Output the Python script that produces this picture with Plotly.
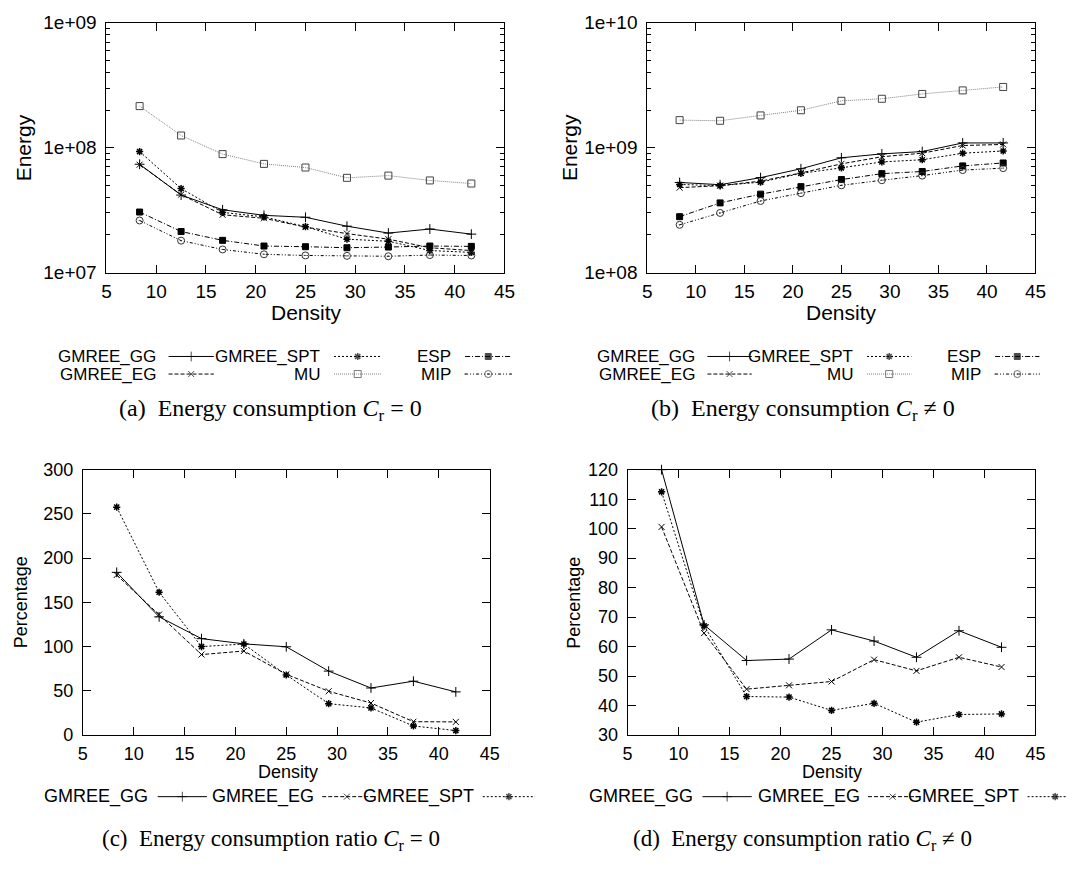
import plotly.graph_objects as go

W, H = 1078, 875

density = [8.33, 12.5, 16.67, 20.83, 25.0, 29.17, 33.33, 37.5, 41.67]

# (a) Energy, C_r = 0
a_GG = [7.36e7, 4.17e7, 3.18e7, 2.87e7, 2.77e7, 2.35e7, 2.07e7, 2.23e7, 2.03e7]
a_EG = [7.30e7, 4.20e7, 2.90e7, 2.72e7, 2.31e7, 2.05e7, 1.85e7, 1.58e7, 1.50e7]
a_SPT = [9.30e7, 4.70e7, 3.03e7, 2.79e7, 2.33e7, 1.85e7, 1.78e7, 1.50e7, 1.45e7]
a_MU = [2.15e8, 1.25e8, 8.87e7, 7.41e7, 6.93e7, 5.73e7, 5.97e7, 5.46e7, 5.16e7]
a_ESP = [3.05e7, 2.13e7, 1.81e7, 1.63e7, 1.61e7, 1.58e7, 1.60e7, 1.63e7, 1.62e7]
a_MIP = [2.61e7, 1.80e7, 1.53e7, 1.40e7, 1.37e7, 1.36e7, 1.35e7, 1.38e7, 1.37e7]

# (b) Energy, C_r != 0
b_GG = [5.26e8, 5.05e8, 5.75e8, 6.77e8, 8.29e8, 8.91e8, 9.30e8, 1.09e9, 1.09e9]
b_EG = [4.78e8, 4.96e8, 5.39e8, 6.27e8, 7.41e8, 8.45e8, 9.02e8, 1.04e9, 1.06e9]
b_SPT = [5.07e8, 4.96e8, 5.29e8, 6.22e8, 6.89e8, 7.68e8, 8.00e8, 9.02e8, 9.40e8]
b_MU = [1.66e9, 1.64e9, 1.81e9, 1.99e9, 2.37e9, 2.46e9, 2.69e9, 2.87e9, 3.06e9]
b_ESP = [2.80e8, 3.61e8, 4.24e8, 4.87e8, 5.55e8, 6.19e8, 6.44e8, 7.14e8, 7.54e8]
b_MIP = [2.41e8, 3.00e8, 3.74e8, 4.32e8, 4.99e8, 5.48e8, 5.97e8, 6.61e8, 6.85e8]

# (c) ratio, C_r = 0
c_GG = [184, 133.7, 109.1, 103.2, 99.9, 72.4, 53.3, 61.0, 48.9]
c_EG = [181, 136.4, 91.1, 95.1, 68.8, 49.6, 36.3, 15.2, 15.0]
c_SPT = [257.7, 161.5, 100.1, 103.0, 68.0, 35.6, 30.8, 10.4, 5.2]

# (d) ratio, C_r != 0
d_GG = [120, 67.4, 55.3, 55.8, 65.7, 61.9, 56.4, 65.4, 59.8]
d_EG = [100.6, 64.6, 45.6, 46.9, 48.2, 55.6, 51.8, 56.4, 53.1]
d_SPT = [112.5, 67.1, 43.1, 42.9, 38.4, 40.8, 34.4, 37.0, 37.2]

energy_ticks_a = [1e7, 1e8, 1e9]
energy_labels_a = ["1e+07", "1e+08", "1e+09"]
energy_ticks_b = [1e8, 1e9, 1e10]
energy_labels_b = ["1e+08", "1e+09", "1e+10"]

SANS = "Liberation Sans, Arial, sans-serif"
SERIF = "Liberation Serif, DejaVu Serif, serif"

STYLES = {
    "GMREE_GG": dict(dash="solid", symbol="cross-thin-open", size=7, color="black", mcolor="black", mw=1),
    "GMREE_EG": dict(dash="4px,2px", symbol="x-thin-open", size=6, color="black", mcolor="black", mw=1),
    "GMREE_SPT": dict(dash="2px,2px", symbol="asterisk-open", size=6, color="black", mcolor="black", mw=1.5),
    "MU": dict(dash="1px,1px", symbol="square-open", size=7, color="#808080", mcolor="#444444", mw=1),
    "ESP": dict(dash="5px,2px,1px,2px", symbol="square", size=6, color="black", mcolor="black", mw=1),
    "MIP": dict(dash="3px,2px,1px,2px,1px,2px", symbol="circle-open-dot", size=7, color="black", mcolor="#333333", mw=1),
}

# panel pixel boxes: (left, right, top, bottom)
BOX = {
    "a": (103, 507, 13, 269),
    "b": (652, 1046, 13, 269),
    "c": (79, 492, 471, 743),
    "d": (632, 1046, 471, 743),
}

fig = go.Figure()


def dom(box):
    l, r, t, b = box
    return [l / W, r / W], [1 - b / H, 1 - t / H]


def add_series(name, xs, ys, ax, clip=True):
    s = STYLES[name]
    fig.add_trace(go.Scatter(
        x=xs, y=ys, mode="lines+markers", name=name, showlegend=False,
        xaxis="x" + ax, yaxis="y" + ax, cliponaxis=clip,
        line=dict(color=s["color"], width=1, dash=s["dash"]),
        marker=dict(symbol=s["symbol"], size=s["size"], color=s["mcolor"],
                    line=dict(width=s["mw"], color=s["mcolor"])),
    ))


for name, ys in [("GMREE_GG", a_GG), ("GMREE_EG", a_EG), ("GMREE_SPT", a_SPT),
                 ("MU", a_MU), ("ESP", a_ESP), ("MIP", a_MIP)]:
    add_series(name, density, ys, "")
for name, ys in [("GMREE_GG", b_GG), ("GMREE_EG", b_EG), ("GMREE_SPT", b_SPT),
                 ("MU", b_MU), ("ESP", b_ESP), ("MIP", b_MIP)]:
    add_series(name, density, ys, "2")
for name, ys in [("GMREE_GG", c_GG), ("GMREE_EG", c_EG), ("GMREE_SPT", c_SPT)]:
    add_series(name, density, ys, "3")
for name, ys in [("GMREE_GG", d_GG), ("GMREE_EG", d_EG), ("GMREE_SPT", d_SPT)]:
    add_series(name, density, ys, "4", clip=False)


def common(fs, standoff):
    return dict(showline=True, linecolor="black", linewidth=1, mirror="ticks",
                ticks="inside", ticklen=8, tickwidth=1, tickcolor="black",
                showgrid=False, zeroline=False, ticklabelstandoff=standoff,
                tickfont=dict(family=SANS, size=fs, color="black"))


def xaxis_for(box, anchor, fs):
    xd, _ = dom(box)
    return dict(domain=xd, anchor=anchor, range=[5, 45], tickvals=[5, 10, 15, 20, 25, 30, 35, 40, 45],
                **common(fs, 2))


def log_minor(lo_exp, hi_exp):
    vals = []
    for e in range(lo_exp, hi_exp):
        for m in range(2, 10):
            vals.append(m * 10 ** e)
    return vals


xa, ya = dom(BOX["a"])
xb, yb = dom(BOX["b"])
xc, yc = dom(BOX["c"])
xd, yd = dom(BOX["d"])

TOP_FS = 19
BOT_FS = 18

fig.update_layout(
    xaxis=xaxis_for(BOX["a"], "y", TOP_FS),
    yaxis=dict(domain=ya, anchor="x", type="log", range=[7, 9],
               tickvals=energy_ticks_a, ticktext=energy_labels_a,
               minor=dict(tickvals=log_minor(7, 9), ticks="inside", ticklen=4, tickcolor="black"),
               **common(TOP_FS, 5)),
    xaxis2=xaxis_for(BOX["b"], "y2", TOP_FS),
    yaxis2=dict(domain=yb, anchor="x2", type="log", range=[8, 10],
                tickvals=energy_ticks_b, ticktext=energy_labels_b,
                minor=dict(tickvals=log_minor(8, 10), ticks="inside", ticklen=4, tickcolor="black"),
                **common(TOP_FS, 5)),
    xaxis3=xaxis_for(BOX["c"], "y3", BOT_FS),
    yaxis3=dict(domain=yc, anchor="x3", range=[0, 300], tickvals=list(range(0, 301, 50)),
                **common(BOT_FS, 5)),
    xaxis4=xaxis_for(BOX["d"], "y4", BOT_FS),
    yaxis4=dict(domain=yd, anchor="x4", range=[30, 120], tickvals=list(range(30, 121, 10)),
                **common(BOT_FS, 5)),
    xaxis5=dict(domain=[0, 1], range=[0, W], visible=False, fixedrange=True, anchor="y5"),
    yaxis5=dict(domain=[0, 1], range=[H, 0], visible=False, fixedrange=True, anchor="x5"),
)

annotations = []


def text(x, y, s, size=17, xanchor="center", angle=0, family=SANS):
    annotations.append(dict(x=x, y=y, xref="x5", yref="y5", text=s, showarrow=False,
                            xanchor=xanchor, yanchor="middle", textangle=angle,
                            font=dict(family=family, size=size, color="black")))


# axis titles
text(19, 141, "Energy", size=21, angle=-90)
text(573, 141, "Energy", size=21, angle=-90)
text(306, 310, "Density", size=21)
text(849, 310, "Density", size=21)
text(17, 607, "Percentage", size=18, angle=-90)
text(578, 607, "Percentage", size=18, angle=-90)
text(287, 781, "Density", size=18)
text(839, 781, "Density", size=18)


def legend_sample(name, x0, x1, y, xm=None):
    s = STYLES[name]
    if xm is None:
        xm = (x0 + x1) / 2
    fig.add_trace(go.Scatter(
        x=[x0, xm, x1], y=[y, y, y], mode="lines+markers", showlegend=False,
        xaxis="x5", yaxis="y5", hoverinfo="skip", cliponaxis=True,
        line=dict(color=s["color"], width=1, dash=s["dash"]),
        marker=dict(symbol=s["symbol"], size=[0, s["size"], 0], color=s["mcolor"],
                    line=dict(width=s["mw"], color=s["mcolor"])),
    ))


def legend_entry(name, text_end, x0, x1, y, size=17, xm=None):
    text(text_end, y, name, size=size, xanchor="right")
    legend_sample(name, x0, x1, y, xm)


# legends for (a) and (b)
for cols in [[(155, 166, 212), (322, 334, 382), (455, 467, 514)],
             [(702, 713, 758), (863, 875, 920), (993, 1005, 1050)]]:
    (g1, s1a, s1b), (g2, s2a, s2b), (g3, s3a, s3b) = cols
    legend_entry("GMREE_GG", g1, s1a, s1b, 355)
    legend_entry("GMREE_EG", g1, s1a, s1b, 373)
    legend_entry("GMREE_SPT", g2, s2a, s2b, 355)
    legend_entry("MU", g2, s2a, s2b, 373)
    legend_entry("ESP", g3, s3a, s3b, 355)
    legend_entry("MIP", g3, s3a, s3b, 373)

# legends for (c) and (d)
legend_entry("GMREE_GG", 147, 155, 205, 806, 18)
legend_entry("GMREE_EG", 316, 322, 372, 806, 18)
legend_entry("GMREE_SPT", 478, 485, 538, 806, 18)
legend_entry("GMREE_GG", 700, 708, 758, 806, 18)
legend_entry("GMREE_EG", 870, 876, 926, 806, 18)
legend_entry("GMREE_SPT", 1031, 1038, 1077, 806, 18, xm=1066)

# captions
text(270, 410, "(a)  Energy consumption <i>C</i><sub>r</sub> = 0", size=24, family=SERIF)
text(810, 410, "(b)  Energy consumption <i>C</i><sub>r</sub> ≠ 0", size=24, family=SERIF)
text(270, 850, "(c)  Energy consumption ratio <i>C</i><sub>r</sub> = 0", size=23, family=SERIF)
text(810, 850, "(d)  Energy consumption ratio <i>C</i><sub>r</sub> ≠ 0", size=23, family=SERIF)

fig.update_layout(
    annotations=annotations,
    width=W, height=H, autosize=False,
    margin=dict(l=0, r=0, t=0, b=0),
    paper_bgcolor="white", plot_bgcolor="rgba(0,0,0,0)",
    showlegend=False,
)

fig.write_html(
    "out.html",
    config={"displayModeBar": False},
    post_script="document.body.style.margin='0';document.body.style.padding='0';"
                "document.documentElement.style.overflow='hidden';",
)
